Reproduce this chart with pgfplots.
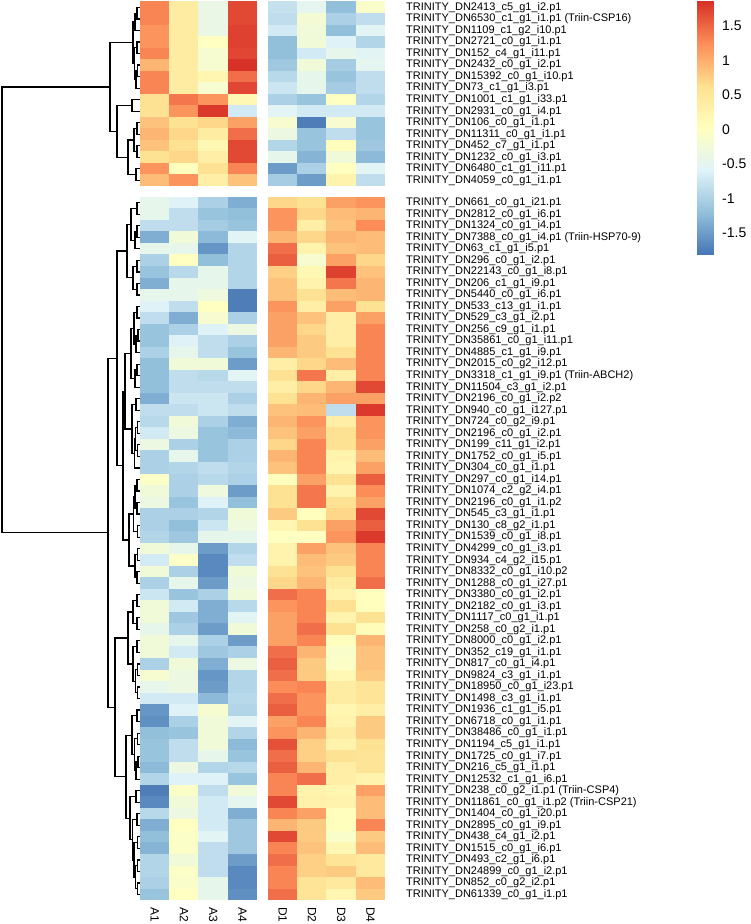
\documentclass[border=0pt]{standalone}
\usepackage{fontspec}
\setmainfont{Liberation Sans}
\usepackage{pgfplots}
\usepackage{pgfplotstable}
\pgfplotsset{compat=1.18}

% pheatmap default palette (rev RdYlBu, 7 steps)
\pgfplotsset{colormap={rdylbu}{rgb255=(69,117,180) rgb255=(145,191,219) rgb255=(224,243,248)
  rgb255=(255,255,191) rgb255=(254,224,144) rgb255=(252,141,89) rgb255=(215,48,39)}}

% one heatmap cell: 29.3pt x 11.53pt
\pgfdeclareplotmark{cell}{%
  \pgfpathrectangle{\pgfqpoint{-14.8pt}{-5.92pt}}{\pgfqpoint{29.6pt}{11.84pt}}%
  \pgfusepathqfill}

\pgfplotsset{cellplot/.style={scatter, only marks, mark=cell, point meta=explicit,
  scatter/use mapped color={fill=mapped color}}}
\newcommand{\ry}{-(\thisrow{r}+0.5+0.94*(\thisrow{r}>15))}

% row z-scores, rows 0-15 upper cluster, 16-76 lower cluster
\pgfplotstableread{
r A1 A2 A3 A4 D1 D2 D3 D4
0 1.3 0.4 -0.4 1.7 -0.8 -0.5 -1.2 -0.1
1 1.3 0.4 -0.4 1.7 -0.85 -0.2 -1.0 -0.85
2 1.2 0.4 -0.4 1.75 -0.7 -0.25 -1.2 -0.55
3 1.2 0.4 0.0 1.75 -1.2 -0.25 -0.6 -0.95
4 1.3 0.4 -0.15 1.72 -1.2 -0.7 -0.45 -0.55
5 0.95 0.4 -0.15 1.85 -1.1 -0.25 -1.05 -0.5
6 1.3 0.4 0.2 1.45 -0.9 -0.45 -1.15 -0.85
7 1.3 0.4 -0.15 1.72 -0.75 -0.45 -1.05 -0.85
8 0.6 1.4 1.2 0.15 -1.0 -1.15 0.0 -0.95
9 0.6 1.2 1.8 -0.7 -0.55 -0.7 -0.7 -0.7
10 0.85 0.6 0.7 1.1 -0.15 -1.75 -0.15 -1.15
11 0.95 0.7 0.4 1.45 -0.35 -1.15 -0.85 -1.15
12 0.85 0.6 0.15 1.7 -0.95 -1.15 0.05 -1.1
13 0.6 0.7 0.35 1.7 -0.45 -1.3 -0.25 -1.25
14 1.2 0.05 0.6 1.3 -1.5 -1.0 0.0 -0.55
15 0.9 1.2 0.35 0.85 -1.05 -1.5 0.25 -0.85
16 -0.45 -0.6 -1.0 -1.35 0.7 0.6 1.1 1.2
17 -0.45 -0.85 -1.15 -1.2 1.2 0.7 0.9 0.95
18 -0.85 -0.85 -1.05 -1.15 1.2 0.35 0.85 1.25
19 -1.35 -0.25 -1.25 -0.55 0.95 0.7 0.95 0.9
20 -0.45 -0.45 -1.55 -0.95 1.45 0.25 0.85 0.9
21 -1.0 0.0 -1.2 -0.95 1.55 -0.15 1.1 0.7
22 -1.15 -0.9 -0.45 -0.95 0.75 0.15 1.75 0.85
23 -1.35 -0.45 -0.45 -0.95 0.85 0.25 1.4 0.95
24 -0.45 -0.45 -0.3 -1.75 0.85 0.6 0.9 0.95
25 -0.6 -0.85 0.0 -1.75 1.2 0.35 1.1 0.6
26 -0.85 -1.35 -0.15 -1.0 1.1 0.85 0.35 1.1
27 -1.15 -1.0 -0.6 -0.35 1.1 0.7 0.35 1.3
28 -1.15 -0.6 -0.85 -1.0 1.1 0.8 0.35 1.3
29 -1.0 -0.45 -0.85 -1.15 0.95 0.8 0.6 1.3
30 -1.2 -0.25 -0.25 -1.5 0.35 0.7 0.9 1.3
31 -1.2 -0.85 -0.9 -0.55 0.6 1.4 0.35 1.3
32 -1.2 -0.85 -0.85 -0.85 0.35 0.7 0.95 1.7
33 -1.35 -0.75 -0.75 -1.0 0.6 0.95 1.1 1.1
34 -0.85 -0.85 -0.75 -0.85 0.85 0.9 -0.85 1.8
35 -0.9 -0.25 -1.0 -1.35 0.95 1.2 0.35 1.2
36 -0.7 -0.35 -1.15 -1.25 0.85 1.1 0.6 1.2
37 -0.35 -1.0 -1.15 -1.0 0.7 1.3 0.6 1.1
38 -1.0 -0.45 -1.15 -1.0 0.95 1.3 0.25 0.9
39 -1.0 -0.95 -0.85 -0.95 0.85 1.3 0.2 1.1
40 -0.05 -1.0 -0.9 -1.0 0.05 1.1 0.6 1.55
41 -0.25 -1.0 -0.3 -1.5 0.6 1.4 0.25 1.25
42 -0.35 -1.15 -0.6 -1.2 0.6 1.4 0.6 1.1
43 -1.0 -1.0 -0.95 -0.25 0.8 0.05 0.7 1.7
44 -1.0 -1.2 -0.75 -0.3 0.2 0.6 1.1 1.55
45 -0.95 -1.1 -0.45 -0.45 0.0 0.0 1.2 1.8
46 -0.25 -0.45 -1.5 -0.95 0.25 1.1 0.85 1.3
47 -0.7 -0.05 -1.65 -0.85 0.25 0.9 0.8 1.3
48 -0.25 -1.0 -1.65 -0.25 0.6 0.85 0.6 1.3
49 -1.0 -0.45 -1.5 -0.35 0.7 0.95 0.4 1.45
50 -0.75 -1.15 -1.0 -0.25 1.45 1.3 0.25 0.05
51 -0.25 -0.7 -1.35 -0.9 1.2 1.3 0.6 0.05
52 -0.25 -1.1 -1.35 -0.55 1.1 1.3 0.25 0.6
53 -0.45 -1.0 -1.5 -0.25 1.1 1.45 0.6 0.1
54 -0.25 -0.45 -1.0 -1.5 1.1 1.3 0.05 0.95
55 -0.25 -0.7 -1.1 -1.0 1.45 0.95 -0.1 0.85
56 -1.0 -0.25 -1.35 -0.35 1.55 0.8 -0.05 0.85
57 -0.15 -0.35 -1.55 -0.95 1.45 0.8 0.15 0.8
58 -0.45 -0.35 -1.5 -0.95 1.25 1.3 0.4 0.55
59 -0.7 -0.7 -1.25 -0.9 1.45 1.2 0.4 0.55
60 -1.55 -0.6 -0.15 -0.95 1.55 1.2 0.2 0.35
61 -1.6 -1.0 -0.25 -0.55 1.1 1.3 0.25 0.8
62 -1.2 -1.15 -0.25 -0.95 1.2 0.95 0.4 0.8
63 -1.15 -0.85 -0.25 -1.25 1.65 0.75 0.25 0.6
64 -1.15 -0.85 -0.45 -1.15 1.45 0.75 0.6 0.55
65 -1.25 -0.35 -0.95 -0.9 1.55 0.95 0.35 0.55
66 -0.95 -0.6 -0.6 -1.15 1.3 1.45 0.35 0.25
67 -1.75 -0.05 -0.85 -0.25 1.3 0.25 0.2 1.1
68 -1.65 -0.25 -0.7 -0.5 1.7 0.3 0.25 0.9
69 -0.9 -0.35 -0.7 -1.35 1.3 1.1 0.05 0.9
70 -1.35 0.0 -0.7 -1.1 0.95 0.8 0.05 1.3
71 -1.2 -0.05 -0.55 -1.1 1.7 0.8 -0.1 0.8
72 -1.3 -0.05 -0.85 -1.1 1.3 0.85 0.15 0.9
73 -0.95 -0.25 -0.85 -1.5 1.45 0.75 0.55 0.45
74 -0.95 -0.05 -0.85 -1.65 1.3 0.75 0.8 0.45
75 -1.0 -0.1 -0.45 -1.65 1.3 0.55 0.45 0.9
76 -1.15 0.0 -0.45 -1.6 1.45 0.55 0.2 0.8
}\hm

\begin{document}
\begin{tikzpicture}
\useasboundingbox (0,0) rectangle (750pt,924pt);

% row dendrogram (x in px, y in row units)
\begin{axis}[
    at={(0pt,23.7pt)}, anchor=south west,
    scale only axis, width=140pt, height=898.65pt,
    xmin=0, xmax=140, ymin=-77.94, ymax=0,
    axis line style={draw=none}, xtick=\empty, ytick=\empty,
    clip=false, unbounded coords=jump,
]
\addplot[black, line width=1.2pt, mark=none] coordinates {
(140,-0.5)(137,-0.5)(137,-1.5)(140,-1.5) (nan,nan)
(137,-1)(135,-1)(135,-2.5)(140,-2.5) (nan,nan)
(140,-3.5)(137,-3.5)(137,-4.5)(140,-4.5) (nan,nan)
(140,-5.5)(137.5,-5.5)(137.5,-6.5)(140,-6.5) (nan,nan)
(137.5,-6)(136,-6)(136,-7.5)(140,-7.5) (nan,nan)
(137,-4)(134.5,-4)(134.5,-6.75)(136,-6.75) (nan,nan)
(135,-1.75)(133,-1.75)(133,-5.375)(134.5,-5.375) (nan,nan)
(140,-8.5)(132,-8.5)(132,-9.5)(140,-9.5) (nan,nan)
(140,-10.5)(137,-10.5)(137,-11.5)(140,-11.5) (nan,nan)
(140,-12.5)(137,-12.5)(137,-13.5)(140,-13.5) (nan,nan)
(137,-11)(134,-11)(134,-13)(137,-13) (nan,nan)
(140,-14.5)(136,-14.5)(136,-15.5)(140,-15.5) (nan,nan)
(134,-12)(128,-12)(128,-15)(136,-15) (nan,nan)
(132,-9)(117,-9)(117,-13.5)(128,-13.5) (nan,nan)
(133,-3.5625)(110,-3.5625)(110,-11.25)(117,-11.25) (nan,nan)
(140,-17.44)(137,-17.44)(137,-18.44)(140,-18.44) (nan,nan)
(140,-19.44)(137,-19.44)(137,-20.44)(140,-20.44) (nan,nan)
(137,-19.94)(135,-19.94)(135,-21.44)(140,-21.44) (nan,nan)
(137,-17.94)(131,-17.94)(131,-20.69)(135,-20.69) (nan,nan)
(140,-22.44)(137,-22.44)(137,-23.44)(140,-23.44) (nan,nan)
(140,-24.44)(137,-24.44)(137,-25.44)(140,-25.44) (nan,nan)
(137,-22.94)(133,-22.94)(133,-24.94)(137,-24.94) (nan,nan)
(131,-19.315)(127,-19.315)(127,-23.94)(133,-23.94) (nan,nan)
(140,-26.44)(137,-26.44)(137,-27.44)(140,-27.44) (nan,nan)
(140,-28.44)(138,-28.44)(138,-29.44)(140,-29.44) (nan,nan)
(138,-28.94)(136,-28.94)(136,-30.44)(140,-30.44) (nan,nan)
(137,-26.94)(134,-26.94)(134,-29.69)(136,-29.69) (nan,nan)
(140,-31.44)(137,-31.44)(137,-32.44)(140,-32.44) (nan,nan)
(137,-31.94)(135,-31.94)(135,-33.44)(140,-33.44) (nan,nan)
(134,-28.315)(131,-28.315)(131,-32.69)(135,-32.69) (nan,nan)
(140,-34.44)(136,-34.44)(136,-35.44)(140,-35.44) (nan,nan)
(140,-36.44)(137.5,-36.44)(137.5,-37.44)(140,-37.44) (nan,nan)
(140,-38.44)(137.5,-38.44)(137.5,-39.44)(140,-39.44) (nan,nan)
(137.5,-36.94)(135.5,-36.94)(135.5,-38.94)(137.5,-38.94) (nan,nan)
(135.5,-37.94)(134.5,-37.94)(134.5,-40.44)(140,-40.44) (nan,nan)
(136,-34.94)(132,-34.94)(132,-39.19)(134.5,-39.19) (nan,nan)
(131,-30.5)(125,-30.5)(125,-37.065)(132,-37.065) (nan,nan)
(140,-41.44)(137,-41.44)(137,-42.44)(140,-42.44) (nan,nan)
(140,-43.44)(137,-43.44)(137,-44.44)(140,-44.44) (nan,nan)
(137,-41.94)(135,-41.94)(135,-43.94)(137,-43.94) (nan,nan)
(140,-45.44)(137.5,-45.44)(137.5,-46.44)(140,-46.44) (nan,nan)
(135,-42.94)(133.5,-42.94)(133.5,-45.94)(137.5,-45.94) (nan,nan)
(140,-47.44)(137.5,-47.44)(137.5,-48.44)(140,-48.44) (nan,nan)
(140,-49.44)(137,-49.44)(137,-50.44)(140,-50.44) (nan,nan)
(137.5,-47.94)(135,-47.94)(135,-49.94)(137,-49.94) (nan,nan)
(133.5,-44.44)(129,-44.44)(129,-48.94)(135,-48.94) (nan,nan)
(125,-33.78)(123,-33.78)(123,-46.69)(129,-46.69) (nan,nan)
(127,-21.63)(117,-21.63)(117,-40.235)(123,-40.235) (nan,nan)
(140,-51.44)(137,-51.44)(137,-52.44)(140,-52.44) (nan,nan)
(140,-53.44)(137,-53.44)(137,-54.44)(140,-54.44) (nan,nan)
(137,-51.94)(133,-51.94)(133,-53.94)(137,-53.94) (nan,nan)
(140,-55.44)(137,-55.44)(137,-56.44)(140,-56.44) (nan,nan)
(140,-57.44)(137.5,-57.44)(137.5,-58.44)(140,-58.44) (nan,nan)
(140,-59.44)(137.5,-59.44)(137.5,-60.44)(140,-60.44) (nan,nan)
(137.5,-57.94)(135.5,-57.94)(135.5,-59.94)(137.5,-59.94) (nan,nan)
(137,-55.94)(133,-55.94)(133,-58.94)(135.5,-58.94) (nan,nan)
(133,-52.94)(128,-52.94)(128,-57.44)(133,-57.44) (nan,nan)
(140,-61.44)(137,-61.44)(137,-62.44)(140,-62.44) (nan,nan)
(140,-63.44)(137.5,-63.44)(137.5,-64.44)(140,-64.44) (nan,nan)
(140,-65.44)(138,-65.44)(138,-66.44)(140,-66.44) (nan,nan)
(138,-65.94)(136,-65.94)(136,-67.44)(140,-67.44) (nan,nan)
(137.5,-63.94)(134.5,-63.94)(134.5,-66.69)(136,-66.69) (nan,nan)
(137,-61.94)(132,-61.94)(132,-65.315)(134.5,-65.315) (nan,nan)
(140,-68.44)(136,-68.44)(136,-69.44)(140,-69.44) (nan,nan)
(140,-70.44)(137,-70.44)(137,-71.44)(140,-71.44) (nan,nan)
(140,-72.44)(137.5,-72.44)(137.5,-73.44)(140,-73.44) (nan,nan)
(140,-74.44)(137.5,-74.44)(137.5,-75.44)(140,-75.44) (nan,nan)
(140,-76.44)(137.5,-76.44)(137.5,-77.44)(140,-77.44) (nan,nan)
(137.5,-74.94)(135.5,-74.94)(135.5,-76.94)(137.5,-76.94) (nan,nan)
(137.5,-72.94)(134,-72.94)(134,-75.94)(135.5,-75.94) (nan,nan)
(137,-70.94)(132.5,-70.94)(132.5,-74.44)(134,-74.44) (nan,nan)
(136,-68.94)(130,-68.94)(130,-72.69)(132.5,-72.69) (nan,nan)
(132,-63.63)(126,-63.63)(126,-70.815)(130,-70.815) (nan,nan)
(128,-55.19)(115,-55.19)(115,-67.22)(126,-67.22) (nan,nan)
(117,-30.93)(108,-30.93)(108,-61.205)(115,-61.205) (nan,nan)
(110,-7.406)(2,-7.406)(2,-46.07)(108,-46.07)
};
\end{axis}

% heatmap
\begin{axis}[
    at={(140pt,23.7pt)}, anchor=south west,
    scale only axis, width=245.2pt, height=898.65pt,
    xmin=0, xmax=8.369, ymin=-77.94, ymax=0,
    clip=false,
    colormap name=rdylbu, point meta min=-1.82, point meta max=1.86,
    axis line style={draw=none}, major tick length=0pt,
    xtick={0.5,1.5,2.5,3.5,4.869,5.869,6.869,7.869},
    xticklabels={A1,A2,A3,A4,D1,D2,D3,D4},
    xticklabel style={rotate=-90, anchor=west, inner sep=6.5pt, font=\fontsize{12}{14}\selectfont},
    yticklabel pos=right,
    ytick={-0.5,-1.5,-2.5,-3.5,-4.5,-5.5,-6.5,-7.5,-8.5,-9.5,-10.5,-11.5,-12.5,-13.5,-14.5,-15.5,
      -17.44,-18.44,-19.44,-20.44,-21.44,-22.44,-23.44,-24.44,-25.44,-26.44,-27.44,-28.44,-29.44,-30.44,
      -31.44,-32.44,-33.44,-34.44,-35.44,-36.44,-37.44,-38.44,-39.44,-40.44,-41.44,-42.44,-43.44,-44.44,
      -45.44,-46.44,-47.44,-48.44,-49.44,-50.44,-51.44,-52.44,-53.44,-54.44,-55.44,-56.44,-57.44,-58.44,
      -59.44,-60.44,-61.44,-62.44,-63.44,-64.44,-65.44,-66.44,-67.44,-68.44,-69.44,-70.44,-71.44,-72.44,
      -73.44,-74.44,-75.44,-76.44,-77.44},
    yticklabels={
      TRINITY\_DN2413\_c5\_g1\_i2.p1,
      TRINITY\_DN6530\_c1\_g1\_i1.p1 (Triin-CSP16),
      TRINITY\_DN1109\_c1\_g2\_i10.p1,
      TRINITY\_DN2721\_c0\_g1\_i1.p1,
      TRINITY\_DN152\_c4\_g1\_i11.p1,
      TRINITY\_DN2432\_c0\_g1\_i2.p1,
      TRINITY\_DN15392\_c0\_g1\_i10.p1,
      TRINITY\_DN73\_c1\_g1\_i3.p1,
      TRINITY\_DN1001\_c1\_g1\_i33.p1,
      TRINITY\_DN2931\_c0\_g1\_i4.p1,
      TRINITY\_DN106\_c0\_g1\_i1.p1,
      TRINITY\_DN11311\_c0\_g1\_i1.p1,
      TRINITY\_DN452\_c7\_g1\_i1.p1,
      TRINITY\_DN1232\_c0\_g1\_i3.p1,
      TRINITY\_DN6480\_c1\_g1\_i11.p1,
      TRINITY\_DN4059\_c0\_g1\_i1.p1,
      TRINITY\_DN661\_c0\_g1\_i21.p1,
      TRINITY\_DN2812\_c0\_g1\_i6.p1,
      TRINITY\_DN1324\_c0\_g1\_i4.p1,
      TRINITY\_DN7388\_c0\_g1\_i4.p1 (Triin-HSP70-9),
      TRINITY\_DN63\_c1\_g1\_i5.p1,
      TRINITY\_DN296\_c0\_g1\_i2.p1,
      TRINITY\_DN22143\_c0\_g1\_i8.p1,
      TRINITY\_DN206\_c1\_g1\_i9.p1,
      TRINITY\_DN5440\_c0\_g1\_i6.p1,
      TRINITY\_DN533\_c13\_g1\_i1.p1,
      TRINITY\_DN529\_c3\_g1\_i2.p1,
      TRINITY\_DN256\_c9\_g1\_i1.p1,
      TRINITY\_DN35861\_c0\_g1\_i11.p1,
      TRINITY\_DN4885\_c1\_g1\_i9.p1,
      TRINITY\_DN2015\_c0\_g2\_i12.p1,
      TRINITY\_DN3318\_c1\_g1\_i9.p1 (Triin-ABCH2),
      TRINITY\_DN11504\_c3\_g1\_i2.p1,
      TRINITY\_DN2196\_c0\_g1\_i2.p2,
      TRINITY\_DN940\_c0\_g1\_i127.p1,
      TRINITY\_DN724\_c0\_g2\_i9.p1,
      TRINITY\_DN2196\_c0\_g1\_i2.p1,
      TRINITY\_DN199\_c11\_g1\_i2.p1,
      TRINITY\_DN1752\_c0\_g1\_i5.p1,
      TRINITY\_DN304\_c0\_g1\_i1.p1,
      TRINITY\_DN297\_c0\_g1\_i14.p1,
      TRINITY\_DN1074\_c2\_g2\_i4.p1,
      TRINITY\_DN2196\_c0\_g1\_i1.p2,
      TRINITY\_DN545\_c3\_g1\_i1.p1,
      TRINITY\_DN130\_c8\_g2\_i1.p1,
      TRINITY\_DN1539\_c0\_g1\_i8.p1,
      TRINITY\_DN4299\_c0\_g1\_i3.p1,
      TRINITY\_DN934\_c4\_g2\_i15.p1,
      TRINITY\_DN8332\_c0\_g1\_i10.p2,
      TRINITY\_DN1288\_c0\_g1\_i27.p1,
      TRINITY\_DN3380\_c0\_g1\_i2.p1,
      TRINITY\_DN2182\_c0\_g1\_i3.p1,
      TRINITY\_DN1117\_c0\_g1\_i1.p1,
      TRINITY\_DN258\_c0\_g2\_i1.p1,
      TRINITY\_DN8000\_c0\_g1\_i2.p1,
      TRINITY\_DN352\_c19\_g1\_i1.p1,
      TRINITY\_DN817\_c0\_g1\_i4.p1,
      TRINITY\_DN9824\_c3\_g1\_i1.p1,
      TRINITY\_DN18950\_c0\_g1\_i23.p1,
      TRINITY\_DN1498\_c3\_g1\_i1.p1,
      TRINITY\_DN1936\_c1\_g1\_i5.p1,
      TRINITY\_DN6718\_c0\_g1\_i1.p1,
      TRINITY\_DN38486\_c0\_g1\_i1.p1,
      TRINITY\_DN1194\_c5\_g1\_i1.p1,
      TRINITY\_DN1725\_c0\_g1\_i7.p1,
      TRINITY\_DN216\_c5\_g1\_i1.p1,
      TRINITY\_DN12532\_c1\_g1\_i6.p1,
      TRINITY\_DN238\_c0\_g2\_i1.p1 (Triin-CSP4),
      TRINITY\_DN11861\_c0\_g1\_i1.p2 (Triin-CSP21),
      TRINITY\_DN1404\_c0\_g1\_i20.p1,
      TRINITY\_DN2895\_c0\_g1\_i9.p1,
      TRINITY\_DN438\_c4\_g1\_i2.p1,
      TRINITY\_DN1515\_c0\_g1\_i6.p1,
      TRINITY\_DN493\_c2\_g1\_i6.p1,
      TRINITY\_DN24899\_c0\_g1\_i2.p1,
      TRINITY\_DN852\_c0\_g2\_i2.p1,
      TRINITY\_DN61339\_c0\_g1\_i1.p1},
    yticklabel style={anchor=west, inner sep=0pt, xshift=20.8pt, font=\fontsize{11}{13}\selectfont},
]
\addplot[cellplot] table[x expr=0.5,   y expr=\ry, meta=A1] {\hm};
\addplot[cellplot] table[x expr=1.5,   y expr=\ry, meta=A2] {\hm};
\addplot[cellplot] table[x expr=2.5,   y expr=\ry, meta=A3] {\hm};
\addplot[cellplot] table[x expr=3.5,   y expr=\ry, meta=A4] {\hm};
\addplot[cellplot] table[x expr=4.869, y expr=\ry, meta=D1] {\hm};
\addplot[cellplot] table[x expr=5.869, y expr=\ry, meta=D2] {\hm};
\addplot[cellplot] table[x expr=6.869, y expr=\ry, meta=D3] {\hm};
\addplot[cellplot] table[x expr=7.869, y expr=\ry, meta=D4] {\hm};
\end{axis}

% colour key: a mesh with rows at the colormap nodes
\begin{axis}[
    at={(697pt,923pt)}, anchor=north west,
    scale only axis, width=16pt, height=254pt,
    xmin=0, xmax=1, ymin=-1.82, ymax=1.86,
    colormap name=rdylbu, point meta min=-1.82, point meta max=1.86,
    axis line style={draw=none}, major tick length=0pt,
    xtick=\empty,
    ytick={-1.5,-1,-0.5,0,0.5,1,1.5},
    yticklabels={-1.5,-1,-0.5,0,0.5,1,1.5},
    yticklabel pos=right,
    yticklabel style={font=\fontsize{14}{16}\selectfont, anchor=west, inner sep=0pt, xshift=9pt},
]
\addplot[surf, shader=interp, mesh/cols=2, point meta=y] coordinates {
(0,-1.82)(1,-1.82)
(0,-1.2067)(1,-1.2067)
(0,-0.5933)(1,-0.5933)
(0,0.02)(1,0.02)
(0,0.6333)(1,0.6333)
(0,1.2467)(1,1.2467)
(0,1.86)(1,1.86)
};
\end{axis}
\end{tikzpicture}
\end{document}
